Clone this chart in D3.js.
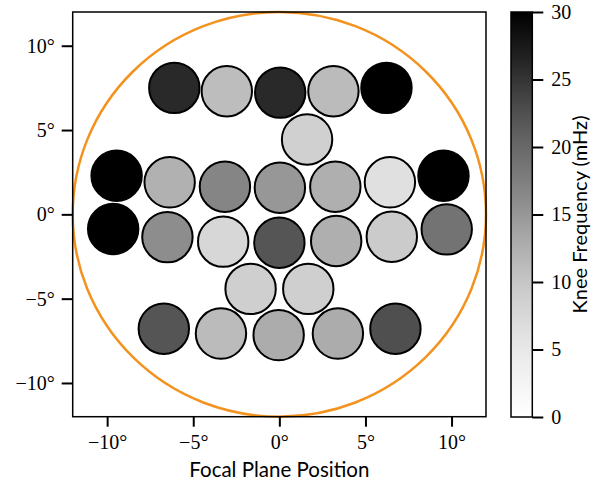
<!DOCTYPE html>
<html>
<head>
<meta charset="utf-8">
<script src="https://cdn.jsdelivr.net/npm/d3@7"></script>
<style>
  body { margin: 0; background: #fff; }
  svg { display: block; }
</style>
</head>
<body>
<svg id="chart" width="596" height="482"></svg>
<script>
// ---- data ----
const xPos = [-6.10, -3.05, 0.05, 3.14, 6.22,
              1.61,
              -9.45, -6.37, -3.16, 0.03, 3.25, 6.42, 9.53,
              -9.65, -6.50, -3.26, 0.00, 3.30, 6.53, 9.72,
              -1.67, 1.68,
              -6.71, -3.39, -0.04, 3.40, 6.74];
const yPos = [7.50, 7.30, 7.22, 7.30, 7.50,
              4.44,
              2.29, 1.90, 1.64, 1.58, 1.64, 1.90, 2.29,
              -0.87, -1.35, -1.62, -1.68, -1.58, -1.33, -0.89,
              -4.42, -4.42,
              -6.78, -7.07, -7.16, -7.07, -6.78];
const kneeFreq = [26.0, 11.0, 26.0, 11.3, 30.0,
                  8.7,
                  30.0, 12.3, 16.8, 15.0, 12.5, 6.3, 30.0,
                  30.0, 16.0, 7.6, 22.0, 12.5, 9.3, 18.8,
                  8.8, 8.8,
                  22.0, 11.3, 12.9, 12.9, 22.6];
const axisTicks = [-10, -5, 0, 5, 10];
const cbarTicks = [0, 5, 10, 15, 20, 25, 30];
const fovRadius = 12;

// ---- layout ----
const svg = d3.select("#chart");
const plot = {left: 72.7, top: 12, right: 486, bottom: 416.7};
const x = d3.scaleLinear().domain([-12, 12]).range([plot.left, plot.right]);
const y = d3.scaleLinear().domain([-12, 12]).range([plot.bottom, plot.top]);
const color = d3.scaleSequential(d3.interpolateGreys).domain([0, 30]).clamp(true);

const serif = "'Liberation Serif', 'Times New Roman', serif";
const sans = "Lato, 'DejaVu Sans', sans-serif";
const fmtDeg = d => (d < 0 ? "\u2212" + Math.abs(d) : d) + "\u00B0";

// field of view ellipse (circle in data coords)
svg.append("ellipse")
  .attr("cx", x(0)).attr("cy", y(0))
  .attr("rx", x(fovRadius) - x(0)).attr("ry", y(0) - y(fovRadius))
  .attr("fill", "none").attr("stroke", "#f3921f").attr("stroke-width", 2.5);

// detectors
svg.append("g").selectAll("circle")
  .data(kneeFreq.map((v, i) => ({x: xPos[i], y: yPos[i], v})))
  .join("circle")
  .attr("cx", d => x(d.x)).attr("cy", d => y(d.y))
  .attr("r", 25.2)
  .attr("fill", d => color(d.v))
  .attr("stroke", "#000").attr("stroke-width", 2);

// frame
svg.append("rect")
  .attr("x", plot.left).attr("y", plot.top)
  .attr("width", plot.right - plot.left).attr("height", plot.bottom - plot.top)
  .attr("fill", "none").attr("stroke", "#000").attr("stroke-width", 1.5);

// axes
const xAxis = d3.axisBottom(x).tickValues(axisTicks).tickFormat(fmtDeg).tickSize(10).tickPadding(8);
const yAxis = d3.axisLeft(y).tickValues(axisTicks).tickFormat(fmtDeg).tickSize(11).tickPadding(7);

const gx = svg.append("g").attr("transform", `translate(0,${plot.bottom})`).call(xAxis);
const gy = svg.append("g").attr("transform", `translate(${plot.left},0)`).call(yAxis);
[gx, gy].forEach(g => {
  g.select(".domain").remove();
  g.selectAll(".tick line").attr("stroke", "#000").attr("stroke-width", 2);
  g.selectAll(".tick text").attr("font-family", serif).attr("font-size", 20).attr("fill", "#000");
});

svg.append("text")
  .attr("x", x(0)).attr("y", 477)
  .attr("text-anchor", "middle")
  .attr("font-family", sans).attr("font-size", 20.5).attr("fill", "#000")
  .text("Focal Plane Position");

// colorbar
const cb = {left: 511, right: 532.3, top: 12, bottom: 417};
const cy = d3.scaleLinear().domain([0, 30]).range([cb.bottom, cb.top]);
const defs = svg.append("defs");
const grad = defs.append("linearGradient").attr("id", "cbgrad")
  .attr("x1", 0).attr("y1", 1).attr("x2", 0).attr("y2", 0);
d3.range(0, 1.0001, 0.05).forEach(t => {
  grad.append("stop").attr("offset", t).attr("stop-color", d3.interpolateGreys(t));
});
svg.append("rect")
  .attr("x", cb.left).attr("y", cb.top)
  .attr("width", cb.right - cb.left).attr("height", cb.bottom - cb.top)
  .attr("fill", "url(#cbgrad)").attr("stroke", "#000").attr("stroke-width", 1.5);

const cAxis = d3.axisRight(cy).tickValues(cbarTicks).tickSize(11).tickPadding(8);
const gc = svg.append("g").attr("transform", `translate(${cb.right},0)`).call(cAxis);
gc.select(".domain").remove();
gc.selectAll(".tick line").attr("stroke", "#000").attr("stroke-width", 2);
gc.selectAll(".tick text").attr("font-family", serif).attr("font-size", 20).attr("fill", "#000");

svg.append("text")
  .attr("transform", `translate(587,${(cb.top + cb.bottom) / 2}) rotate(-90)`)
  .attr("text-anchor", "middle")
  .attr("font-family", sans).attr("font-size", 20).attr("fill", "#000")
  .text("Knee Frequency (mHz)");
</script>
</body>
</html>
